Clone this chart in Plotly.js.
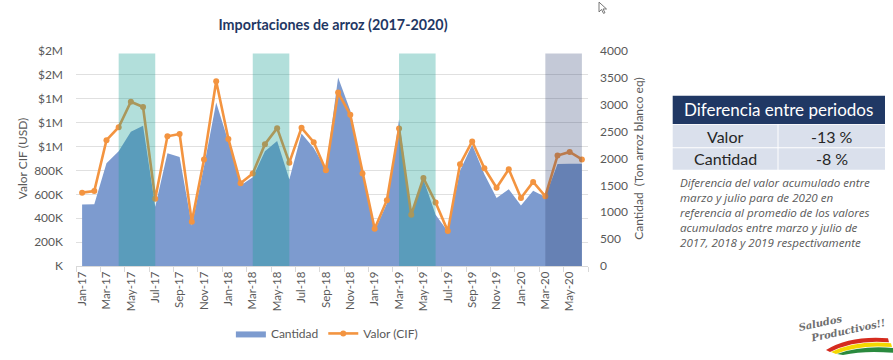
<!DOCTYPE html>
<html>
<head>
<meta charset="utf-8">
<script src="https://cdn.plot.ly/plotly-3.0.1.min.js"></script>
<style>
html,body{margin:0;padding:0;background:#ffffff;}
#chart{width:893px;height:360px;}
</style>
</head>
<body>
<div id="chart"></div>
<script>
// ---------- DATA ----------
const months = ["Jan-17","Feb-17","Mar-17","Apr-17","May-17","Jun-17","Jul-17","Aug-17","Sep-17","Oct-17","Nov-17","Dec-17",
  "Jan-18","Feb-18","Mar-18","Apr-18","May-18","Jun-18","Jul-18","Aug-18","Sep-18","Oct-18","Nov-18","Dec-18",
  "Jan-19","Feb-19","Mar-19","Apr-19","May-19","Jun-19","Jul-19","Aug-19","Sep-19","Oct-19","Nov-19","Dec-19",
  "Jan-20","Feb-20","Mar-20","Apr-20","May-20","Jun-20"];

const valorCIF = [614000,628000,1053000,1162000,1375000,1331000,562000,1086000,1105000,370000,892000,1547000,
  1064000,693000,775000,1020000,1154000,865000,1157000,1037000,802000,1452000,1266000,775000,
  311000,551000,1151000,429000,737000,532000,292000,851000,1043000,818000,655000,810000,
  570000,704000,584000,925000,955000,892000];

const cantidad = [1145,1150,1910,2134,2497,2607,1103,2098,2030,753,1850,3043,
  2316,1498,1649,2134,2327,1610,2467,2194,1800,3509,2891,1709,
  649,1164,2727,930,1610,953,640,1771,2254,1709,1265,1428,
  1125,1400,1285,1900,1903,1903];

const valorTickVals = [0,200000,400000,600000,800000,1000000,1200000,1400000,1600000,1800000];
const valorTickText = ["K","200K","400K","600K","800K","$1M","$1M","$1M","$2M","$2M"];
const cantidadTickVals = [0,500,1000,1500,2000,2500,3000,3500,4000];

const shadePeriods = [["Apr-17","Jul-17"],["Mar-18","Jun-18"],["Mar-19","Jun-19"],["Mar-20","Jun-20"]];

const tableTitle = "Diferencia entre periodos";
const tableLabels = ["Valor","Cantidad"];
const tableValues = ["-13 %","-8 %"];
const noteLines = ["Diferencia del valor acumulado entre",
  "marzo y julio para de 2020 en",
  "referencia al promedio de los valores",
  "acumulados entre marzo y julio de",
  "2017, 2018 y 2019 respectivamente"];

// ---------- LAYOUT HELPERS (pixel -> paper) ----------
const W = 893, H = 360;
const ML = 76, MR = 305, MT = 51, MB = 89;
const PW = W - ML - MR, PH = H - MT - MB;
const px = p => (p - ML) / PW;
const py = p => (H - MB - p) / PH;

const FONT = "Lato, 'Open Sans', sans-serif";
const GRAY = "#595959";

const traces = [
  {
    x: months, y: cantidad, name: "Cantidad", type: "scatter", mode: "lines",
    fill: "tozeroy", fillcolor: "#7d9bcf", line: {width: 0, color: "#7d9bcf"},
    yaxis: "y", hoverinfo: "x+y"
  },
  {
    x: months, y: valorCIF, name: "Valor (CIF)", type: "scatter", mode: "lines+markers",
    line: {color: "#f39440", width: 2.6}, marker: {color: "#f39440", size: 6},
    yaxis: "y2"
  }
];

const shapes = [];
shadePeriods.forEach((p, i) => {
  const last = i === shadePeriods.length - 1;
  shapes.push({type: "rect", xref: "x", yref: "paper", x0: p[0], x1: p[1], y0: 0, y1: 0.988,
    fillcolor: last ? "#2c3e70" : "#159e91", opacity: last ? 0.28 : 0.33, line: {width: 0}, layer: "above"});
});

// table
const tX0 = 672.7, tX1 = 885, tXm = 778;
shapes.push({type: "rect", xref: "paper", yref: "paper", x0: px(tX0), x1: px(tX1), y0: py(125.7), y1: py(96.7),
  fillcolor: "#203864", line: {width: 0}});
const rowTops = [126.5, 150.5], rowBots = [149.5, 172.5];
for (let r = 0; r < 2; r++) {
  shapes.push({type: "rect", xref: "paper", yref: "paper", x0: px(tX0), x1: px(tXm - 0.5), y0: py(rowBots[r]), y1: py(rowTops[r]),
    fillcolor: "#dae0ec", line: {width: 0}});
  shapes.push({type: "rect", xref: "paper", yref: "paper", x0: px(tXm + 0.5), x1: px(tX1), y0: py(rowBots[r]), y1: py(rowTops[r]),
    fillcolor: "#dae0ec", line: {width: 0}});
}

// logo swoosh
function band(pts, color) {
  let d = "M " + px(pts[0][0]) + "," + py(pts[0][1]);
  d += " Q " + px(pts[1][0]) + "," + py(pts[1][1]) + " " + px(pts[2][0]) + "," + py(pts[2][1]);
  d += " L " + px(pts[3][0]) + "," + py(pts[3][1]);
  d += " Q " + px(pts[4][0]) + "," + py(pts[4][1]) + " " + px(pts[5][0]) + "," + py(pts[5][1]) + " Z";
  shapes.push({type: "path", xref: "paper", yref: "paper", path: d, fillcolor: color, line: {width: 0}});
}
band([[826,357],[850,342],[888,345],[889,349],[855,346],[830,359]], "#d52b1e");
band([[831,359],[856,347],[891,350],[892,354],[860,351],[836,361]], "#f4d800");
band([[837,361],[862,352],[894,355],[894,360],[866,357],[843,362]], "#2a8a3e");

// cursor
shapes.push({type: "path", xref: "paper", yref: "paper",
  path: "M " + px(599) + "," + py(1) + " L " + px(599) + "," + py(11) + " L " + px(601.5) + "," + py(8.5) +
        " L " + px(603.5) + "," + py(12.5) + " L " + px(605) + "," + py(11.8) + " L " + px(603) + "," + py(8) +
        " L " + px(606.5) + "," + py(8) + " Z",
  fillcolor: "#ffffff", line: {color: "#555555", width: 0.8}});

const annotations = [];
annotations.push({xref: "paper", yref: "paper", x: px((tX0 + tX1) / 2), y: py(111.2), text: tableTitle, showarrow: false,
  xanchor: "center", yanchor: "middle", font: {family: FONT, size: 17, color: "#ffffff"}});
for (let r = 0; r < 2; r++) {
  const yc = (rowTops[r] + rowBots[r]) / 2;
  annotations.push({xref: "paper", yref: "paper", x: px((tX0 + tXm) / 2), y: py(yc), text: tableLabels[r], showarrow: false,
    xanchor: "center", yanchor: "middle", font: {family: FONT, size: 16, color: "#262626"}});
  annotations.push({xref: "paper", yref: "paper", x: px((tXm + tX1) / 2), y: py(yc), text: tableValues[r], showarrow: false,
    xanchor: "center", yanchor: "middle", font: {family: FONT, size: 16, color: "#262626"}});
}
annotations.push({xref: "paper", yref: "paper", x: px(678), y: py(216), text: noteLines.join("<br>"), showarrow: false,
  xanchor: "left", yanchor: "middle", align: "left",
  font: {family: "'Open Sans', sans-serif", size: 11.6, color: GRAY, style: "italic"}});
annotations.push({xref: "paper", yref: "paper", x: px(842), y: py(331), text: "Saludos<br>\u00a0\u00a0\u00a0Productivos!!",
  showarrow: false, xanchor: "center", yanchor: "middle", align: "left", textangle: -12,
  font: {family: "'DejaVu Serif', serif", size: 10, color: "#6e6e6e", style: "italic", weight: 700}});

const layout = {
  width: W, height: H,
  margin: {l: ML, r: MR, t: MT, b: MB, pad: 0},
  paper_bgcolor: "#ffffff", plot_bgcolor: "rgba(0,0,0,0)",
  font: {family: FONT, size: 12, color: GRAY},
  title: {text: "Importaciones de arroz (2017-2020)", x: 333 / W, xanchor: "center", xref: "container",
    y: 1 - 25 / H, yanchor: "middle", yref: "container",
    font: {family: FONT, size: 14.3, color: "#1f3864", weight: 700}},
  showlegend: true,
  legend: {orientation: "h", x: 0.49, xanchor: "center", y: py(340), yanchor: "middle",
    font: {family: FONT, size: 12, color: GRAY}, bgcolor: "rgba(0,0,0,0)", itemwidth: 30, traceorder: "normal"},
  xaxis: {
    type: "category", range: [-0.5, 41.5], tickson: "boundaries", dtick: 2, tickangle: -90,
    ticks: "outside", ticklen: 5, tickcolor: "#d9d9d9", showline: true, linecolor: "#d9d9d9", linewidth: 1,
    showgrid: false, zeroline: false, automargin: false, fixedrange: true,
    tickfont: {family: FONT, size: 11.5, color: GRAY}
  },
  yaxis: {
    side: "right", range: [0, 4000], tickvals: cantidadTickVals, showgrid: false, zeroline: false,
    automargin: false, ticks: "", ticklabelstandoff: 11,
    tickfont: {family: FONT, size: 12, color: GRAY},
    title: {text: "Cantidad\u00a0\u00a0(Ton arroz blanco eq)", standoff: 7, font: {family: FONT, size: 12, color: GRAY}}
  },
  yaxis2: {
    overlaying: "y", side: "left", range: [0, 1800000], tickvals: valorTickVals, ticktext: valorTickText,
    showgrid: true, gridcolor: "#e0e0e0", gridwidth: 1, zeroline: false, automargin: false,
    ticks: "", ticklabelstandoff: 12,
    tickfont: {family: FONT, size: 12, color: GRAY},
    title: {text: "Valor CIF (USD)", standoff: 3, font: {family: FONT, size: 12, color: GRAY}}
  },
  shapes: shapes,
  annotations: annotations
};

Plotly.newPlot("chart", traces, layout, {displayModeBar: false, staticPlot: true});
</script>
</body>
</html>
